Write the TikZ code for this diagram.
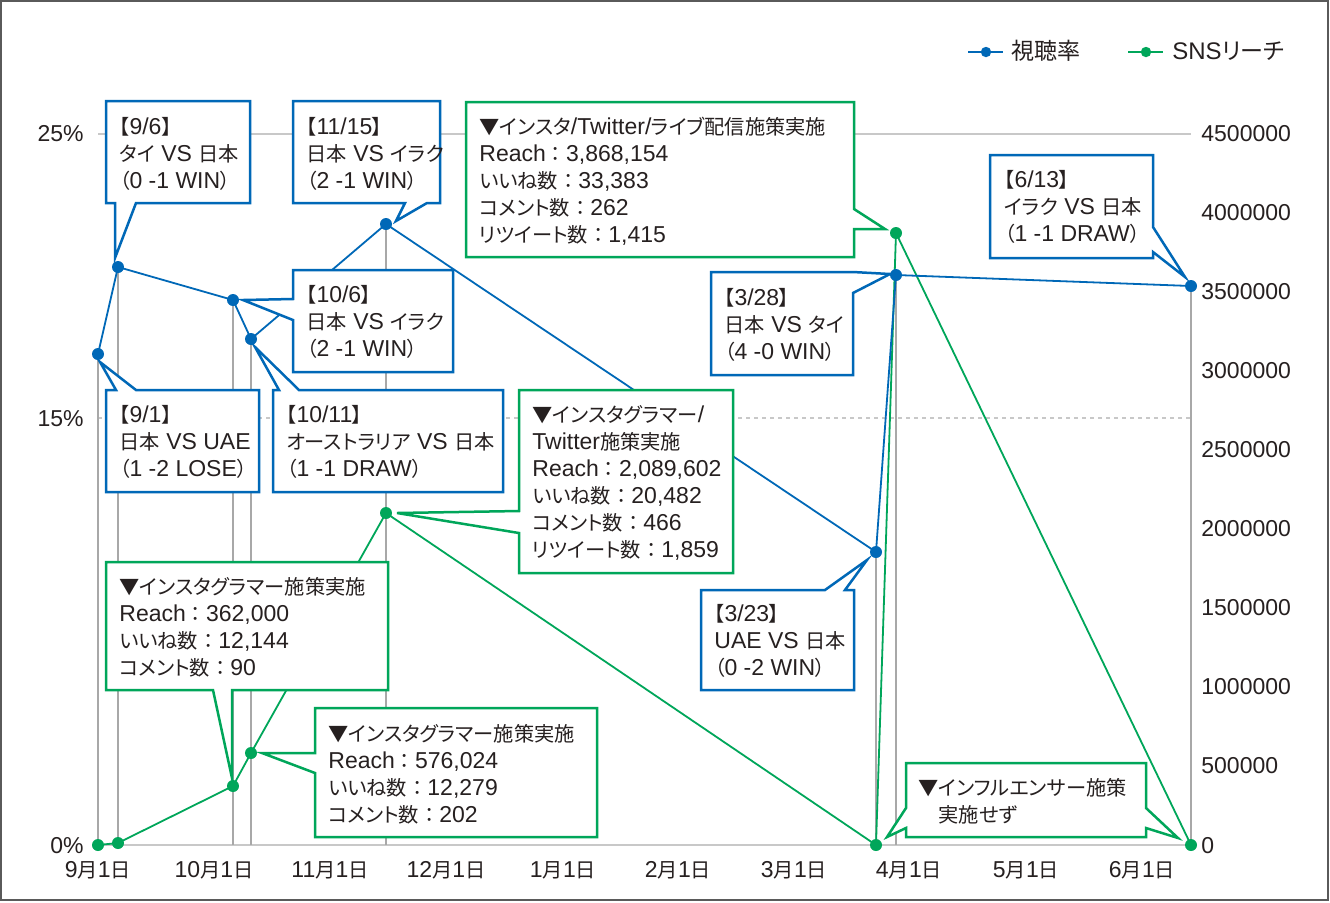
\documentclass[tikz,border=0pt]{standalone}
\usepackage{fontspec}
\setmainfont{Liberation Sans}
\newfontfamily\jpf{Noto Sans CJK JP}[Scale=0.88,RawFeature=+palt]
\newfontfamily\jpc{Noto Sans CJK JP}[Scale=0.88]
\newfontfamily\jpL{Noto Sans CJK JP}[Scale=0.96,RawFeature=+palt]
\newcommand\J[1]{{\jpf #1}}
\newcommand\C{{\jpc ：}}
\definecolor{cblue}{RGB}{0,104,183}
\definecolor{cgreen}{RGB}{0,166,90}
\definecolor{cgrid}{RGB}{200,200,200}
\definecolor{cdrop}{RGB}{168,168,168}
\definecolor{ctext}{RGB}{38,32,32}
\definecolor{cframe}{RGB}{90,90,90}
\begin{document}
\begin{tikzpicture}[x=0.5pt,y=-0.5pt,
  frame/.style={draw=cframe,line width=1pt},
  gridl/.style={draw=cgrid,line width=0.75pt},
  gridd/.style={draw=cgrid,line width=0.75pt,dash pattern=on 2pt off 2pt},
  drop/.style={draw=cdrop,line width=0.9pt},
  bline/.style={draw=cblue,line width=0.9pt},
  gline/.style={draw=cgreen,line width=0.9pt},
  bbox/.style={draw=cblue,line width=1.25pt,fill=white,line join=miter},
  gbox/.style={draw=cgreen,line width=1.25pt,fill=white,line join=miter},
  btxt/.style={anchor=base west,align=left,inner sep=0pt,text=ctext,font=\fontsize{11.5}{13.5}\selectfont},
  axl/.style={inner sep=0pt,text=ctext,font=\fontsize{11.5}{13.5}\selectfont},
  lgt/.style={anchor=west,inner sep=0pt,text=ctext,font=\fontsize{12}{14}\selectfont}]
\useasboundingbox (0,0) rectangle (1330,902);
\fill[white] (0,0) rectangle (1330,902);
\draw[frame] (1,1) rectangle (1328,900);

% grid lines
\draw[gridl] (98,134) -- (1191,134);
\draw[gridd] (98,418) -- (1191,418);
\draw[gridl] (98,845) -- (1191,845);

% data points
\coordinate (b1) at (98,354);
\coordinate (b2) at (118,267);
\coordinate (b3) at (233,300);
\coordinate (b4) at (251,339);
\coordinate (b5) at (386,224);
\coordinate (b6) at (876,552);
\coordinate (b7) at (896,275);
\coordinate (b8) at (1191,286);
\coordinate (g1) at (98,845);
\coordinate (g2) at (118,843);
\coordinate (g3) at (233,786);
\coordinate (g4) at (251,753);
\coordinate (g5) at (386,513);
\coordinate (g6) at (876,845);
\coordinate (g7) at (896,233);
\coordinate (g8) at (1191,845);
\coordinate (ax) at (0,845);

% drop lines
\foreach \p in {b1,b2,b3,b4,b5,b6,b7,b8} \draw[drop] (\p) -- (\p |- ax);

% data lines
\draw[gline] (g1) -- (g2) -- (g3) -- (g4) -- (g5) -- (g6) -- (g7) -- (g8);
\draw[bline] (b1) -- (b2) -- (b3) -- (b4) -- (b5) -- (b6) -- (b7) -- (b8);

% axis labels
\node[axl,anchor=east] (l25) at (84,134) {25\%};
\node[axl,anchor=east] (l15) at (84,419) {15\%};
\node[axl,anchor=east] (l0) at (84,846) {0\%};
\node[axl,anchor=west] (r9) at (1201,134) {4500000};
\node[axl,anchor=west] (r8) at (1201,213) {4000000};
\node[axl,anchor=west] (r7) at (1201,292) {3500000};
\node[axl,anchor=west] (r6) at (1201,371) {3000000};
\node[axl,anchor=west] (r5) at (1201,450) {2500000};
\node[axl,anchor=west] (r4) at (1201,529) {2000000};
\node[axl,anchor=west] (r3) at (1201,608) {1500000};
\node[axl,anchor=west] (r2) at (1201,687) {1000000};
\node[axl,anchor=west] (r1) at (1201,766) {500000};
\node[axl,anchor=west] (r0) at (1201,846) {0};
\node[axl] (m9) at (98,870) {9\J{月}1\J{日}};
\node[axl] (m10) at (214,870) {10\J{月}1\J{日}};
\node[axl] (m11) at (330,870) {11\J{月}1\J{日}};
\node[axl] (m12) at (446,870) {12\J{月}1\J{日}};
\node[axl] (m1) at (563,870) {1\J{月}1\J{日}};
\node[axl] (m2) at (678,870) {2\J{月}1\J{日}};
\node[axl] (m3) at (794,870) {3\J{月}1\J{日}};
\node[axl] (m4) at (909,870) {4\J{月}1\J{日}};
\node[axl] (m5) at (1026,870) {5\J{月}1\J{日}};
\node[axl] (m6) at (1142,870) {6\J{月}1\J{日}};

% legend
\coordinate (lb1) at (968,52); \coordinate (lb2) at (1003,52);
\draw[bline] (lb1) -- (lb2);
\fill[cblue] (986,52) circle[radius=2.6pt];
\node[lgt] (leg1) at (1011,51) {{\jpL 視聴率}};
\coordinate (lg1) at (1128,52); \coordinate (lg2) at (1163,52);
\draw[gline] (lg1) -- (lg2);
\fill[cgreen] (1146,52) circle[radius=2.6pt];
\node[lgt] (leg2) at (1172,51) {SNS{\jpL リーチ}};

% blue callouts (node base = baseline of last line)
\draw[bbox] (106,101) -- (250,101) -- (250,203) -- (136,203) -- (115,258) -- (115,203) -- (106,203) -- cycle;
\node[btxt] (t96) at (119,188) {\J{【}9/6\J{】}\\\J{タイ} VS \J{日本}\\\J{（}0 -1 WIN\J{）}};

\draw[bbox] (293,101) -- (440,101) -- (440,203) -- (427,203) -- (396,221) -- (405,203) -- (293,203) -- cycle;
\node[btxt] (t1115) at (306,188) {\J{【}11/15\J{】}\\\J{日本} VS \J{イラク}\\\J{（}2 -1 WIN\J{）}};

\draw[bbox] (293,270) -- (453,270) -- (453,372) -- (293,372) -- (293,320) -- (243,300) -- (293,299) -- cycle;
\node[btxt] (t106) at (306,356) {\J{【}10/6\J{】}\\\J{日本} VS \J{イラク}\\\J{（}2 -1 WIN\J{）}};

\draw[bbox] (106,390) -- (116,390) -- (100,362) -- (136,390) -- (259,390) -- (259,492) -- (106,492) -- cycle;
\node[btxt] (t91) at (119,476) {\J{【}9/1\J{】}\\\J{日本} VS UAE\\\J{（}1 -2 LOSE\J{）}};

\draw[bbox] (273,390) -- (279,390) -- (255,347) -- (299,390) -- (503,390) -- (503,492) -- (273,492) -- cycle;
\node[btxt] (t1011) at (286,476) {\J{【}10/11\J{】}\\\J{オーストラリア} VS \J{日本}\\\J{（}1 -1 DRAW\J{）}};

\draw[bbox] (711,272) -- (853,272) -- (890,274) -- (853,293) -- (853,375) -- (711,375) -- cycle;
\node[btxt] (t328) at (724,359) {\J{【}3/28\J{】}\\\J{日本} VS \J{タイ}\\\J{（}4 -0 WIN\J{）}};

\draw[bbox] (701,590) -- (825,590) -- (867,560) -- (845,590) -- (854,590) -- (854,690) -- (701,690) -- cycle;
\node[btxt] (t323) at (714,675) {\J{【}3/23\J{】}\\UAE VS \J{日本}\\\J{（}0 -2 WIN\J{）}};

\draw[bbox] (990,155) -- (1153,155) -- (1153,227) -- (1185,277) -- (1153,252) -- (1153,258) -- (990,258) -- cycle;
\node[btxt] (t613) at (1004,241) {\J{【}6/13\J{】}\\\J{イラク} VS \J{日本}\\\J{（}1 -1 DRAW\J{）}};

% green callouts
\draw[gbox] (466,102) -- (854,102) -- (854,209) -- (885,229) -- (854,229) -- (854,257) -- (466,257) -- cycle;
\node[btxt] (tA) at (479,242) {\J{▼インスタ}/Twitter/\J{ライブ配信施策実施}\\Reach\C3,868,154\\\J{いいね数}\C33,383\\\J{コメント数}\C262\\\J{リツイート数}\C1,415};

\draw[gbox] (519,390) -- (733,390) -- (733,573) -- (519,573) -- (519,533) -- (397,513) -- (519,511) -- cycle;
\node[btxt] (tB) at (532,557) {\J{▼インスタグラマー}/\\Twitter\J{施策実施}\\Reach\C2,089,602\\\J{いいね数}\C20,482\\\J{コメント数}\C466\\\J{リツイート数}\C1,859};

\draw[gbox] (106,562) -- (388,562) -- (388,690) -- (232,690) -- (232,778) -- (213,690) -- (106,690) -- cycle;
\node[btxt] (tC) at (119,675) {\J{▼インスタグラマー施策実施}\\Reach\C362,000\\\J{いいね数}\C12,144\\\J{コメント数}\C90};

\draw[gbox] (315,708) -- (597,708) -- (597,837) -- (315,837) -- (315,773) -- (262,753) -- (315,753) -- cycle;
\node[btxt] (tD) at (328,822) {\J{▼インスタグラマー施策実施}\\Reach\C576,024\\\J{いいね数}\C12,279\\\J{コメント数}\C202};

\draw[gbox] (906,763) -- (1146,763) -- (1146,808) -- (1178,838) -- (1146,828) -- (1146,837) -- (906,837) -- (906,828) -- (887,837) -- (906,808) -- cycle;
\node[btxt] (tE) at (918,822) {\J{▼インフルエンサー施策}\\\J{\phantom{▼}実施せず}};

% dots
\foreach \p in {g1,g2,g3,g4,g5,g6,g7,g8} \fill[cgreen] (\p) circle[radius=3pt];
\foreach \p in {b1,b2,b3,b4,b5,b6,b7,b8} \fill[cblue] (\p) circle[radius=3pt];
\end{tikzpicture}
\end{document}
